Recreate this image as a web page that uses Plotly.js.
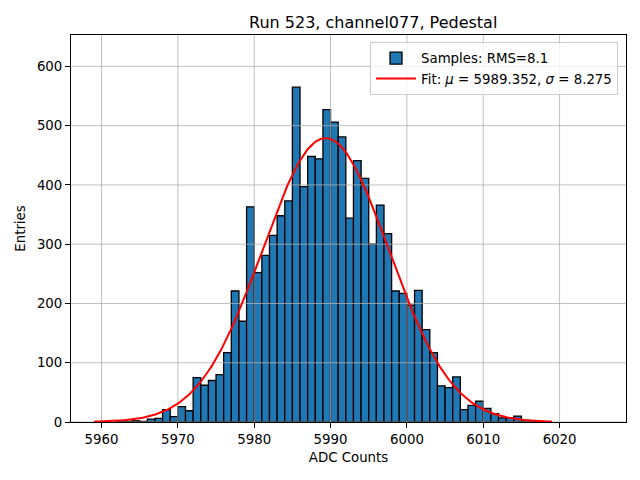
<!DOCTYPE html>
<html>
<head>
<meta charset="utf-8">
<script src="https://cdn.plot.ly/plotly-3.0.1.min.js"></script>
<style>html,body{margin:0;padding:0;background:#fff;}#plot{width:640px;height:480px;}</style>
</head>
<body>
<div id="plot"></div>
<script>
// Histogram bins (left edge, width 1 ADC count) and entries
const binLow = [5962,5963,5964,5965,5966,5967,5968,5969,5970,5971,5972,5973,5974,5975,5976,5977,5978,5979,
                5980,5981,5982,5983,5984,5985,5986,5987,5988,5989,5990,5991,5992,5993,5994,5995,5996,5997,5998,5999,
                6000,6001,6002,6003,6004,6005,6006,6007,6008,6009,6010,6011,6012,6013,6014,6015,6016,6017];
const counts = [1,1,2,1,5,6,21,9,26,19,75,62,70,80,117,221,170,363,
                252,281,315,348,373,565,397,448,444,527,506,481,344,441,411,300,366,318,221,217,
                197,222,156,117,61,58,76,21,28,35,23,14,7,7,10,3,1,1];
const binWidth = 1;

// Gaussian fit parameters shown in the legend
const fitMu = 5989.352;
const fitSigma = 8.275;
const fitAmp = 479;
const fitRange = [5959, 6019];

const xTicks = [5960,5970,5980,5990,6000,6010,6020];
const yTicks = [0,100,200,300,400,500,600];
const xRange = [5956.0, 6028.7];
const yRange = [0, 653];

const centers = binLow.map(b => b + binWidth/2);

const fitX = [], fitY = [];
const nPts = 300;
for (let i = 0; i < nPts; i++) {
  const x = fitRange[0] + (fitRange[1]-fitRange[0]) * i/(nPts-1);
  fitX.push(x);
  fitY.push(fitAmp * Math.exp(-0.5*Math.pow((x-fitMu)/fitSigma, 2)));
}

// grid lines drawn above bars (as matplotlib does for patches)
const gx = [], gy = [];
xTicks.forEach(v => { gx.push(v, v, null); gy.push(yRange[0], yRange[1], null); });
yTicks.forEach(v => { gx.push(xRange[0], xRange[1], null); gy.push(v, v, null); });

const font = "DejaVu Sans, sans-serif";

const traces = [
  {
    type: 'bar', x: centers, y: counts, width: binWidth,
    marker: {color: '#1f77b4', line: {color: '#000000', width: 1.3}},
    name: 'Samples: RMS=8.1', hoverinfo: 'x+y'
  },
  {
    type: 'scatter', mode: 'lines', x: gx, y: gy,
    line: {color: '#b0b0b0', width: 0.8}, showlegend: false, hoverinfo: 'skip', connectgaps: false
  },
  {
    type: 'scatter', mode: 'lines', x: fitX, y: fitY,
    line: {color: '#ff0000', width: 2},
    name: 'Fit: <i>μ</i> = 5989.352, <i>σ</i> = 8.275'
  }
];

const layout = {
  width: 640, height: 480,
  paper_bgcolor: '#ffffff', plot_bgcolor: '#ffffff',
  margin: {l: 71, r: 14, t: 35, b: 58, pad: 0},
  font: {family: font, size: 13.33, color: '#000000'},
  title: {text: 'Run 523, channel077, Pedestal', font: {family: font, size: 16, color: '#000000'},
          x: 348.5/640, xref: 'paper', xanchor: 'center', y: 1 - 22/480, yref: 'container', yanchor: 'middle'},
  bargap: 0,
  showlegend: true,
  legend: {x: 0.9856, xanchor: 'right', y: 0.982, yanchor: 'top',
           bgcolor: 'rgba(255,255,255,0.8)', bordercolor: '#cccccc', borderwidth: 1,
           itemwidth: 40,
           font: {family: font, size: 13.33, color: '#000000'}, tracegroupgap: 2},
  xaxis: {
    range: xRange, tickmode: 'array', tickvals: xTicks, ticktext: xTicks.map(String),
    ticks: 'outside', ticklen: 5, tickwidth: 1, tickcolor: '#000000',
    showgrid: false, zeroline: false, showline: true, mirror: true, linecolor: '#000000', linewidth: 1,
    title: {text: 'ADC Counts', font: {family: font, size: 13.33, color: '#000000'}, standoff: 6},
    automargin: false
  },
  yaxis: {
    range: yRange, tickmode: 'array', tickvals: yTicks, ticktext: yTicks.map(String),
    ticks: 'outside', ticklen: 5, tickwidth: 1, tickcolor: '#000000',
    showgrid: false, zeroline: false, showline: true, mirror: true, linecolor: '#000000', linewidth: 1,
    title: {text: 'Entries', font: {family: font, size: 13.33, color: '#000000'}, standoff: 8},
    automargin: false
  }
};

Plotly.newPlot('plot', traces, layout, {displayModeBar: false, staticPlot: true});
</script>
</body>
</html>
